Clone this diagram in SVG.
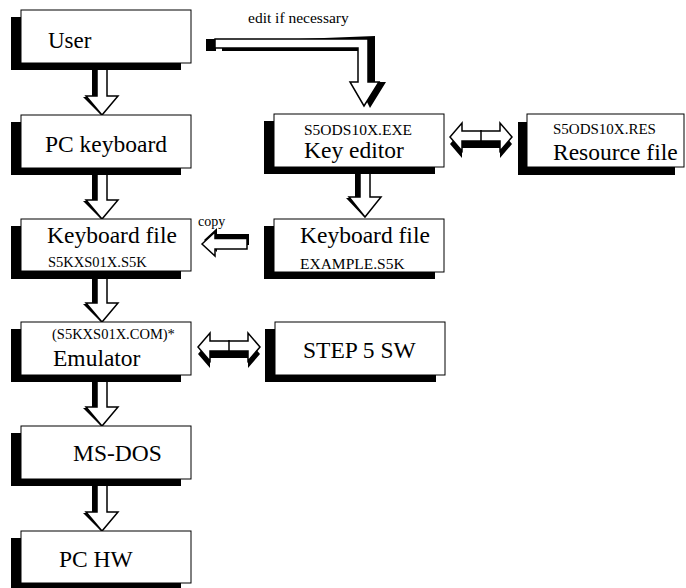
<svg xmlns="http://www.w3.org/2000/svg" width="686" height="588" viewBox="0 0 686 588">
<style>
.sh{fill:#000}
.bx{fill:#fff;stroke:#000;stroke-width:1}
text{font-family:'Liberation Serif',serif;fill:#000}
.ar{fill:#fff;stroke:#000;stroke-width:1.5;stroke-linejoin:miter}
</style>
<defs>
<g id="dbl">
<polygon class="sh" points="0,21 12,7 12,15 50,15 50,7 62,21 50,35 50,25 12,25 12,35"/>
<polygon class="ar" points="0,14 12,0 12,8 50,8 50,0 62,14 50,28 50,18 12,18 12,28"/>
<line x1="31" y1="7" x2="31" y2="19" stroke="#000" stroke-width="1.5"/>
</g>
</defs>

<g id="connectors">
<g id="a1">
<polygon class="sh" points="92,63 97,63 97,97 88,97 102,116 83,97 92,97"/>
<polygon class="ar" points="97,63 107,63 107,96 118,96 102,115 86,96 97,96"/>
</g>
<g id="a2">
<polygon class="sh" points="92,168 97,168 97,201 88,201 102,220 83,201 92,201"/>
<polygon class="ar" points="97,168 107,168 107,200 118,200 102,219 86,200 97,200"/>
</g>
<g id="a3">
<polygon class="sh" points="92,271 97,271 97,304 88,304 102,323 83,304 92,304"/>
<polygon class="ar" points="97,271 107,271 107,303 118,303 102,322 86,303 97,303"/>
</g>
<g id="a4">
<polygon class="sh" points="92,375 97,375 97,408 88,408 102,427 83,408 92,408"/>
<polygon class="ar" points="97,375 107,375 107,407 118,407 102,426 86,407 97,407"/>
</g>
<g id="a5">
<polygon class="sh" points="92,479 97,479 97,513 88,513 102,532 83,513 92,513"/>
<polygon class="ar" points="97,479 107,479 107,512 118,512 102,531 86,512 97,512"/>
</g>
<g id="a6">
<polygon class="sh" points="355,167 360,167 360,198 351,198 365,218 346,198 355,198"/>
<polygon class="ar" points="360,167 370,167 370,197 381,197 365,217 349,197 360,197"/>
</g>
<g id="copy">
<polygon class="sh" points="204,240 217,228 217,234 249,234 249,245 217,245 217,252"/>
<polygon class="ar" points="202,244 215,232 215,238.5 247,238.5 247,249 215,249 215,256"/>
<text x="198" y="226" font-family="Liberation Serif" font-size="14">copy</text>
</g>
<g id="edit">
<rect x="206" y="39" width="10" height="12" fill="#000"/>
<polygon class="sh" points="222,42 375,36 375,82 386,82 370,108 357,82 365,82 365,51 222,51"/>
<polygon class="ar" points="215,39 368,39 368,82 379,82 364,106 350,82 358,82 358,48 215,48"/>
<text x="248" y="23" font-family="Liberation Serif" font-size="15.5">edit if necessary</text>
</g>
<use id="d1" href="#dbl" transform="translate(450,123)"/>
<use id="d2" href="#dbl" transform="translate(198,333)"/>
</g>

<g id="user">
<rect class="sh" x="11" y="17" width="170" height="53"/>
<rect class="bx" x="21" y="10" width="170" height="53"/>
<text x="48" y="48" font-family="Liberation Serif" font-size="23">User</text>
</g>
<g id="pckeyboard">
<rect class="sh" x="11" y="122" width="170" height="53"/>
<rect class="bx" x="21" y="115" width="170" height="53"/>
<text x="45" y="152" font-family="Liberation Serif" font-size="23.5">PC keyboard</text>
</g>
<g id="kbfile">
<rect class="sh" x="11" y="226" width="170" height="53"/>
<rect class="bx" x="21" y="219" width="170" height="52"/>
<text x="47" y="243" font-family="Liberation Serif" font-size="23.5">Keyboard file</text>
<text x="48" y="267" font-family="Liberation Serif" font-size="14.5">S5KXS01X.S5K</text>
</g>
<g id="emulator">
<rect class="sh" x="11" y="329" width="170" height="53"/>
<rect class="bx" x="21" y="322" width="170" height="53"/>
<text x="52" y="339" font-family="Liberation Serif" font-size="14.5">(S5KXS01X.COM)*</text>
<text x="53" y="366" font-family="Liberation Serif" font-size="23.5">Emulator</text>
</g>
<g id="msdos">
<rect class="sh" x="11" y="433" width="170" height="53"/>
<rect class="bx" x="21" y="426" width="170" height="53"/>
<text x="73" y="461" font-family="Liberation Serif" font-size="23.5">MS-DOS</text>
</g>
<g id="pchw">
<rect class="sh" x="11" y="538" width="170" height="50"/>
<rect class="bx" x="21" y="531" width="170" height="52"/>
<text x="59" y="567" font-family="Liberation Serif" font-size="23.5">PC HW</text>
</g>
<g id="keyeditor">
<rect class="sh" x="264" y="121" width="171" height="53"/>
<rect class="bx" x="274" y="114" width="170" height="53"/>
<text x="304" y="135" font-family="Liberation Serif" font-size="15.5">S5ODS10X.EXE</text>
<text x="304" y="158" font-family="Liberation Serif" font-size="23.5">Key editor</text>
</g>
<g id="resource">
<rect class="sh" x="518" y="122" width="157" height="53"/>
<rect class="bx" x="527" y="114" width="157" height="53"/>
<text x="553" y="134" font-family="Liberation Serif" font-size="15">S5ODS10X.RES</text>
<text x="553" y="160" font-family="Liberation Serif" font-size="23.5">Resource file</text>
</g>
<g id="example">
<rect class="sh" x="264" y="226" width="171" height="53"/>
<rect class="bx" x="274" y="219" width="170" height="53"/>
<text x="300" y="243" font-family="Liberation Serif" font-size="23.5">Keyboard file</text>
<text x="300" y="269" font-family="Liberation Serif" font-size="15.5">EXAMPLE.S5K</text>
</g>
<g id="step5">
<rect class="sh" x="265" y="329" width="171" height="53"/>
<rect class="bx" x="275" y="322" width="170" height="53"/>
<text x="303" y="358" font-family="Liberation Serif" font-size="23.5">STEP 5 SW</text>
</g>
</svg>
